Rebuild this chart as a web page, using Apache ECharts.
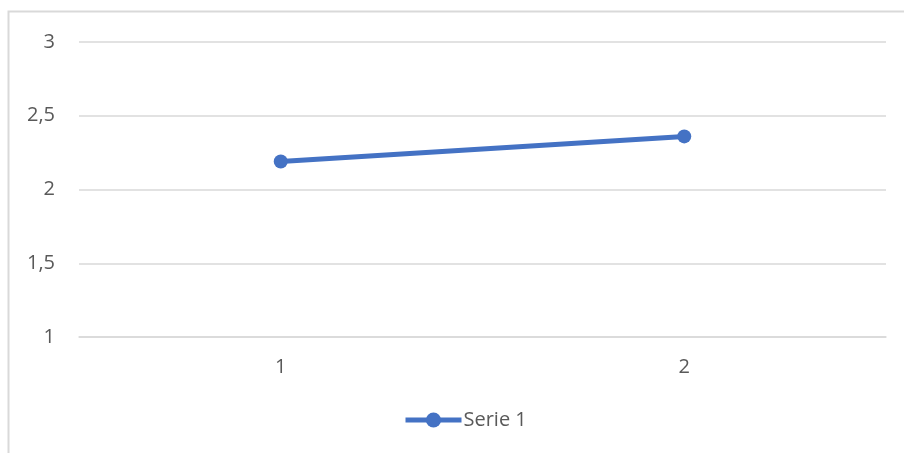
<!DOCTYPE html>
<html>
<head>
<meta charset="utf-8">
<script src="https://cdn.jsdelivr.net/npm/echarts@6/dist/echarts.min.js"></script>
<style>
html,body{margin:0;padding:0;background:#fff;}
#chart{width:904px;height:453px;}
</style>
</head>
<body>
<div id="chart"></div>
<script>
// Category labels, series values and value-axis ticks
const categories = ['1', '2'];
const serie1 = [2.19, 2.36];
const yTicks = [1, 1.5, 2, 2.5, 3];

const chart = echarts.init(document.getElementById('chart'), null, {renderer: 'canvas'});
const font = '"Open Sans", "Liberation Sans", sans-serif';

chart.setOption({
  animation: false,
  backgroundColor: '#ffffff',
  graphic: [{
    type: 'rect',
    shape: {x: 8.5, y: 11.5, width: 1000, height: 1000},
    style: {fill: 'none', stroke: '#d9d9d9', lineWidth: 2},
    silent: true,
    z: -1
  }],
  grid: {left: 79, right: 18, top: 42, bottom: 116},
  legend: {
    top: 410,
    left: 403,
    padding: 0,
    itemWidth: 56,
    itemHeight: 19,
    itemGap: 10,
    textStyle: {color: '#595959', fontSize: 20, fontFamily: font, padding: [0, 0, 0, -3]},
    lineStyle: {width: 5},
    data: ['Serie 1']
  },
  xAxis: {
    type: 'category',
    data: categories,
    boundaryGap: true,
    axisLine: {show: true, lineStyle: {color: '#d9d9d9', width: 1.5}},
    axisTick: {show: false},
    axisLabel: {color: '#595959', fontSize: 20, fontFamily: font, margin: 20}
  },
  yAxis: {
    type: 'value',
    min: yTicks[0],
    max: yTicks[yTicks.length - 1],
    interval: 0.5,
    axisLine: {show: false},
    axisTick: {show: false},
    splitLine: {lineStyle: {color: '#d9d9d9', width: 1.5}},
    axisLabel: {
      color: '#595959', fontSize: 20, fontFamily: font, margin: 24,
      formatter: v => String(v).replace('.', ',')
    }
  },
  series: [{
    name: 'Serie 1',
    type: 'line',
    data: serie1,
    symbol: 'circle',
    symbolSize: 14,
    lineStyle: {color: '#4472c4', width: 5},
    itemStyle: {color: '#4472c4'}
  }]
});
</script>
</body>
</html>
